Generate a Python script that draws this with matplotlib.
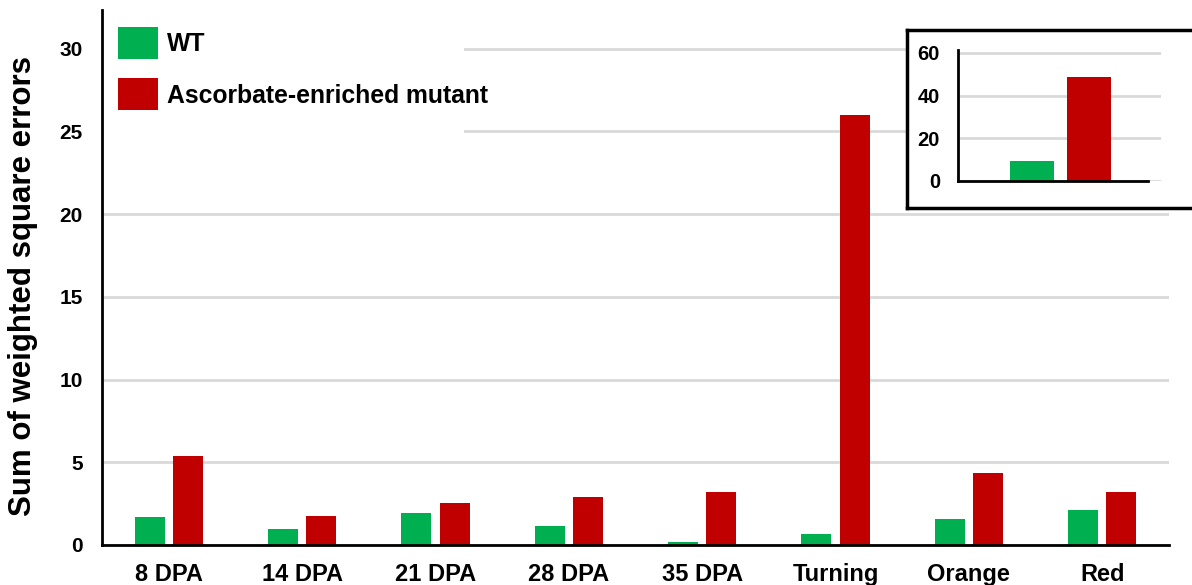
import matplotlib.pyplot as plt
import matplotlib.patches as mpatches
import numpy as np

plt.rcParams['font.family'] = ['Liberation Sans', 'DejaVu Sans']
plt.rcParams['font.weight'] = 'bold'

# datos del grafico principal
etapas = ['8 DPA', '14 DPA', '21 DPA', '28 DPA', '35 DPA', 'Turning', 'Orange', 'Red']
wt = [1.69, 0.97, 1.91, 1.13, 0.18, 0.64, 1.59, 2.11]
mutante = [5.38, 1.75, 2.52, 2.90, 3.20, 26.0, 4.37, 3.20]

# datos del recuadro (suma total)
wt_total = 9.4
mutante_total = 48.9

verde = '#00B050'
rojo = '#C00000'
gris = '#D9D9D9'

W, H = 1192, 585
fig = plt.figure(figsize=(W / 100, H / 100), dpi=100)

# ejes principales
ax = fig.add_axes([102 / W, 40 / H, (1169 - 102) / W, (545 - 10) / H])
x = np.arange(len(etapas))
ancho = 0.225
ax.bar(x - 0.143, wt, ancho, color=verde, zorder=2, label='WT')
ax.bar(x + 0.143, mutante, ancho, color=rojo, zorder=2, label='Ascorbate-enriched mutant')
ax.set_xlim(-0.5, len(etapas) - 0.5)
ax.set_ylim(0, 32.33)
ax.set_yticks([0, 5, 10, 15, 20, 25, 30])
ax.set_xticks(x)
ax.set_xticklabels(etapas, fontsize=17, fontweight='bold')
ax.tick_params(axis='y', labelsize=15, length=0, pad=14)
ax.tick_params(axis='x', length=0, pad=13)
ax.set_axisbelow(True)
ax.yaxis.grid(True, color=gris, lw=2)
for lado in ['top', 'right']:
    ax.spines[lado].set_visible(False)
for lado in ['left', 'bottom']:
    ax.spines[lado].set_linewidth(2)
    ax.spines[lado].set_color('black')
ax.set_ylabel('Sum of weighted square errors', fontsize=22.5, fontweight='bold')
ax.yaxis.set_label_coords(-64 / 1067, 0.484)

# fondo blanco detras de la leyenda
ax.add_patch(mpatches.Rectangle((0.002, (545 - 140) / 535), (464 - 104) / 1067, 1,
                                transform=ax.transAxes, facecolor='white',
                                edgecolor='none', zorder=0.8, clip_on=False))
fig.legend(loc='upper left', bbox_to_anchor=(118 / W, 1 - 27 / H), frameon=False,
           handlelength=1.6, handleheight=1.62, handletextpad=0.4,
           labelspacing=0.78, borderpad=0, borderaxespad=0,
           prop={'weight': 'bold', 'size': 17.8})

# marco del recuadro
marco = fig.add_axes([907 / W, (585 - 208) / H, (1200 - 907) / W, 178 / H])
marco.set_xticks([])
marco.set_yticks([])
marco.set_facecolor('white')
for s in marco.spines.values():
    s.set_linewidth(2.5)
    s.set_color('black')

# recuadro con los totales
ins = fig.add_axes([958 / W, (585 - 181) / H, (1161 - 958) / W, 131 / H])
ins.bar([-0.3], [wt_total], 0.47, color=verde, zorder=2)
ins.bar([0.3], [mutante_total], 0.47, color=rojo, zorder=2)
ins.set_xlim(-1.079, 1.058)
ins.set_ylim(0, 61.4)
ins.set_yticks([0, 20, 40, 60])
ins.set_xticks([])
ins.tick_params(axis='y', labelsize=14.5, length=0, pad=13)
ins.set_axisbelow(True)
ins.yaxis.grid(True, color=gris, lw=2)
ins.patch.set_alpha(0)
for lado in ['top', 'right']:
    ins.spines[lado].set_visible(False)
for lado in ['left', 'bottom']:
    ins.spines[lado].set_linewidth(2)
    ins.spines[lado].set_color('black')
ins.spines['bottom'].set_bounds(-1.079, 0.921)

fig.savefig('out.png', dpi=100)
